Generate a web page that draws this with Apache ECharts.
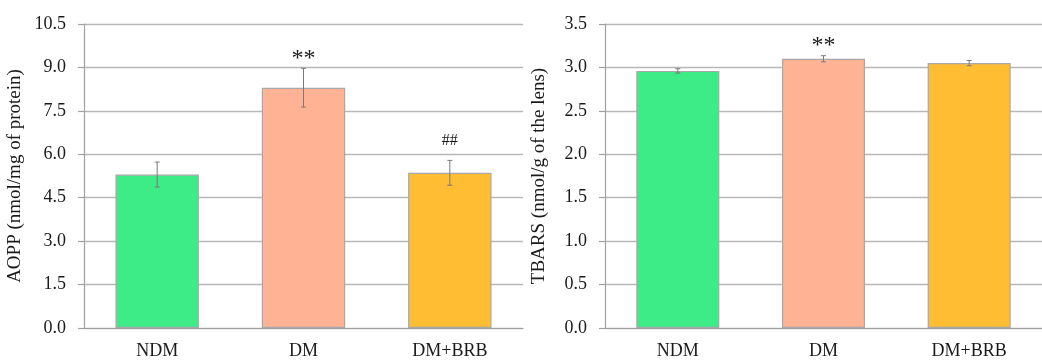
<!DOCTYPE html>
<html>
<head>
<meta charset="utf-8">
<script src="https://cdn.jsdelivr.net/npm/echarts@6/dist/echarts.min.js"></script>
<style>
  html, body { margin: 0; padding: 0; background: #fff; }
  #chart { width: 1042px; height: 360px; }
</style>
</head>
<body>
<div id="chart"></div>
<script>
// Groups and measured values (mean ± error)
const categories = ['NDM', 'DM', 'DM+BRB'];

const aoppMean = [5.30, 8.30, 5.36];
const aoppErr = [0.43, 0.67, 0.43];
const aoppMarks = ['', '**', '##'];

const tbarsMean = [2.96, 3.10, 3.05];
const tbarsErr = [0.025, 0.035, 0.03];
const tbarsMarks = ['', '**', ''];

// Value axis ranges: [min, max, step]
const aoppAxis = [0, 10.5, 1.5];
const tbarsAxis = [0, 3.5, 0.5];

const barColors = ['#3DEB87', '#FFB294', '#FFBD33'];

const FONT = '"Liberation Serif", "DejaVu Serif", serif';
const TEXT = '#1a1a1a';
const GRID_LINE = '#b8b8b8';
const AXIS_LINE = '#a0a0a0';

// gap above the error cap for each significance mark
const markGap = { '**': 10, '##': 20 };
const markSize = { '**': 24, '##': 16 };

function xAxisFor(gridIndex) {
  return {
    type: 'category', gridIndex, data: categories,
    axisLine: { lineStyle: { color: AXIS_LINE, width: 1.2 } },
    axisTick: { show: false },
    axisLabel: { color: TEXT, fontFamily: FONT, fontSize: 18, margin: 14 }
  };
}

function yAxisFor(gridIndex, range, name, gap) {
  return {
    type: 'value', gridIndex,
    min: range[0], max: range[1], interval: range[2],
    name, nameLocation: 'middle', nameGap: gap,
    nameTextStyle: { color: TEXT, fontFamily: FONT, fontSize: 19 },
    axisLine: { show: true, lineStyle: { color: AXIS_LINE, width: 1.2 } },
    axisTick: { show: true, length: 6, lineStyle: { color: AXIS_LINE, width: 1.2 } },
    axisLabel: { color: TEXT, fontFamily: FONT, fontSize: 18, margin: 18,
      formatter: v => v.toFixed(1) },
    splitLine: { lineStyle: { color: GRID_LINE, width: 1.4 } }
  };
}

function barSeries(idx, mean) {
  return {
    type: 'bar', xAxisIndex: idx, yAxisIndex: idx,
    barWidth: '57%',
    data: mean.map((v, i) => ({
      value: v,
      itemStyle: { color: barColors[i], borderColor: '#a8a8a8', borderWidth: 1.2 }
    })),
    silent: true
  };
}

function errorSeries(idx, mean, err, marks) {
  return {
    type: 'custom', xAxisIndex: idx, yAxisIndex: idx, z: 5, silent: true,
    data: mean.map((m, i) => [i, m - err[i], m + err[i]]),
    renderItem(params, api) {
      const x = api.value(0);
      const lo = api.coord([x, api.value(1)]);
      const hi = api.coord([x, api.value(2)]);
      const cap = 2.5;
      const style = { stroke: '#7a7a7a', lineWidth: 1 };
      const children = [
        { type: 'line', shape: { x1: lo[0], y1: lo[1], x2: hi[0], y2: hi[1] }, style },
        { type: 'line', shape: { x1: lo[0] - cap, y1: lo[1], x2: lo[0] + cap, y2: lo[1] }, style },
        { type: 'line', shape: { x1: hi[0] - cap, y1: hi[1], x2: hi[0] + cap, y2: hi[1] }, style }
      ];
      const mark = marks[params.dataIndex];
      if (mark) {
        children.push({
          type: 'text',
          style: {
            text: mark, x: hi[0], y: hi[1] - markGap[mark],
            align: 'center', verticalAlign: 'middle',
            fill: TEXT, fontFamily: FONT, fontSize: markSize[mark]
          }
        });
      }
      return { type: 'group', children };
    }
  };
}

const chart = echarts.init(document.getElementById('chart'), null, { renderer: 'canvas' });
chart.setOption({
  animation: false,
  backgroundColor: '#fff',
  grid: [
    { left: 84, top: 24, width: 439, height: 304 },
    { left: 605, top: 24, width: 450, height: 304 }
  ],
  xAxis: [xAxisFor(0), xAxisFor(1)],
  yAxis: [
    yAxisFor(0, aoppAxis, 'AOPP (nmol/mg of protein)', 59),
    yAxisFor(1, tbarsAxis, 'TBARS (nmol/g of the lens)', 56)
  ],
  series: [
    barSeries(0, aoppMean),
    errorSeries(0, aoppMean, aoppErr, aoppMarks),
    barSeries(1, tbarsMean),
    errorSeries(1, tbarsMean, tbarsErr, tbarsMarks)
  ]
});
</script>
</body>
</html>
